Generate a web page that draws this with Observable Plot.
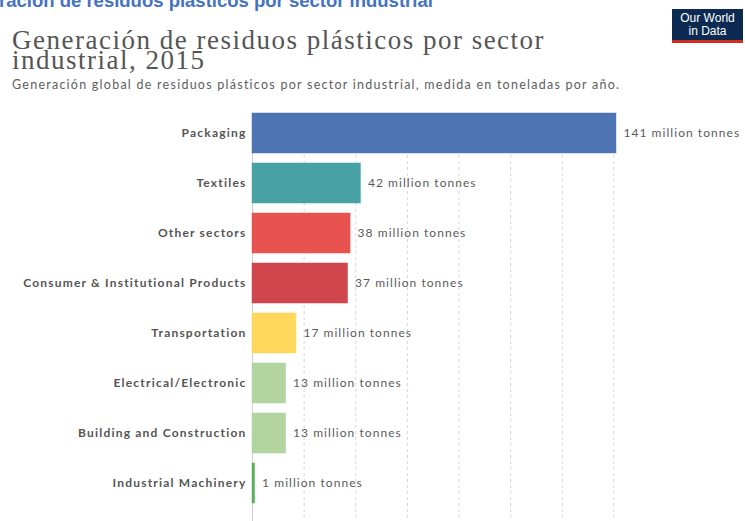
<!DOCTYPE html>
<html>
<head>
<meta charset="utf-8">
<script src="https://cdn.jsdelivr.net/npm/d3@7"></script>
<script src="https://cdn.jsdelivr.net/npm/@observablehq/plot@0.6"></script>
<style>
  html, body { margin: 0; padding: 0; background: #fff; }
  body { width: 745px; height: 521px; position: relative; overflow: hidden; }
  #slide { position: absolute; left: -1px; top: -10px; font-family: "Liberation Sans", sans-serif; font-weight: bold; font-size: 18.5px; color: #4472c4; white-space: nowrap; }
  #logo { position: absolute; left: 672px; top: 9px; width: 71px; height: 28px; padding-top: 3px; background: #0d2b52; border-bottom: 3px solid #d42b21; color: #fff; font-family: "Liberation Sans", Arial, sans-serif; font-size: 12px; line-height: 13px; text-align: center; }
  #title { position: absolute; left: 12px; top: 30px; font-family: "Liberation Serif", serif; font-size: 27px; letter-spacing: 1.5px; line-height: 20px; color: #555; width: 580px; }
  #subtitle { position: absolute; left: 12px; top: 77px; font-family: Lato, sans-serif; font-size: 12.5px; letter-spacing: 1.25px; color: #5e5e5e; white-space: nowrap; }
  #chart { position: absolute; left: 0; top: 100px; }
  #chart svg text.label { letter-spacing: 1.05px; }
  #chart svg g[aria-label="y-axis tick label"] text { letter-spacing: 1.2px; }
</style>
</head>
<body>
<div id="slide">ración de residuos plásticos por sector industrial</div>
<div id="logo">Our World<br>in Data</div>
<div id="title">Generación de residuos plásticos por sector industrial, 2015</div>
<div id="subtitle">Generación global de residuos plásticos por sector industrial, medida en toneladas por año.</div>
<div id="chart"></div>
<script>
const sectors = ["Packaging", "Textiles", "Other sectors", "Consumer & Institutional Products", "Transportation", "Electrical/Electronic", "Building and Construction", "Industrial Machinery"];
const values = [141, 42, 38, 37, 17, 13, 13, 1];
const colors = ["#4e74b4", "#48a2a5", "#e9534f", "#d1454c", "#fed75b", "#b2d59f", "#b2d59f", "#5fae5f"];
const unitLabel = "million tonnes";
const gridTicks = [20, 40, 60, 80, 100, 120, 140];

const data = sectors.map((s, i) => ({sector: s, value: values[i], color: colors[i], label: `${values[i]} ${unitLabel}`}));

const chart = Plot.plot({
  width: 745,
  height: 421,
  marginLeft: 252,
  marginRight: 80,
  marginTop: 13,
  marginBottom: 0,
  style: {fontFamily: "Lato, sans-serif", background: "transparent"},
  x: {domain: [0, 160], axis: null},
  y: {domain: sectors, paddingInner: 0.21, paddingOuter: 0.138, align: 0, label: null},
  marks: [
    Plot.ruleX(gridTicks, {stroke: "#d6d6d6", strokeDasharray: "3,3", strokeWidth: 1}),
    Plot.ruleX([0], {stroke: "#cfcfcf", strokeWidth: 1}),
    Plot.barX(data, {x: "value", y: "sector", fill: "color", stroke: "color", strokeOpacity: 0.5}),
    Plot.text(data, {x: "value", y: "sector", text: "label", textAnchor: "start", dx: 7, fill: "#5b5b5b", fontSize: 12}),
    Plot.axisY({tickSize: 0, tickPadding: 6, fontSize: 12, fontWeight: "bold", color: "#555", label: null})
  ]
});
chart.querySelectorAll("text").forEach(t => {
  if (t.closest('[aria-label="text"]')) t.classList.add("label");
});
document.getElementById("chart").appendChild(chart);
</script>
</body>
</html>
